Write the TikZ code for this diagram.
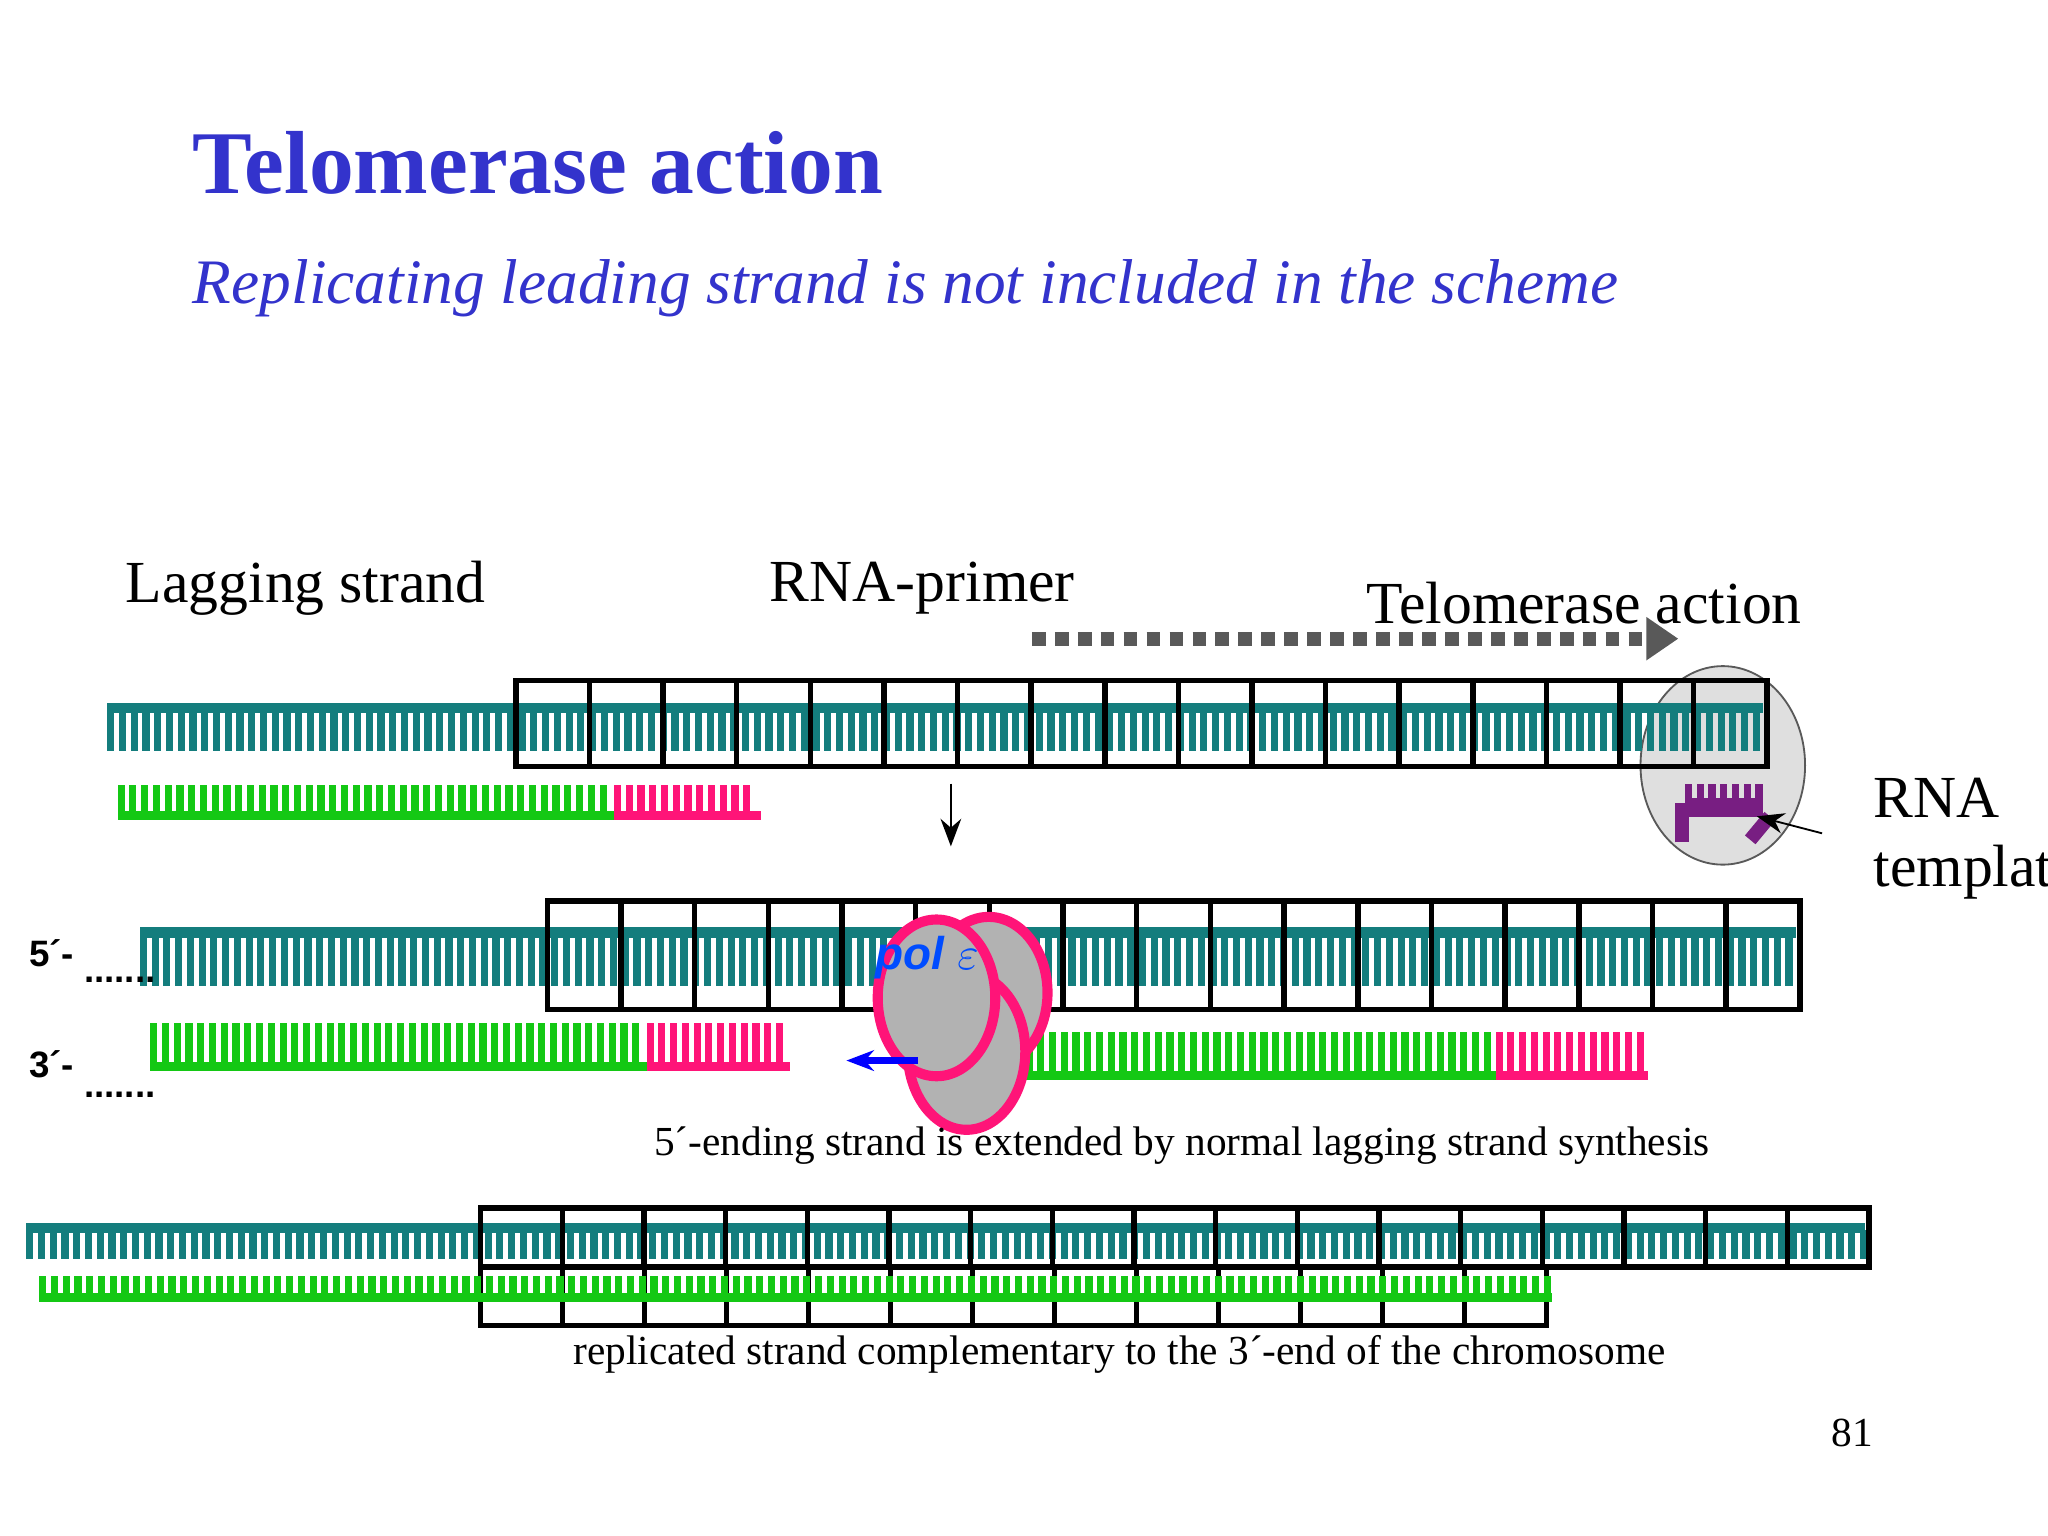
\documentclass[tikz,border=0pt]{standalone}
\usepackage{fontspec}
\setmainfont{Liberation Serif}
\newfontfamily\sansf{Liberation Sans}
\usetikzlibrary{arrows.meta,shapes.geometric}
\definecolor{teal1}{RGB}{20,125,125}
\definecolor{grn}{RGB}{20,200,20}
\definecolor{pnk}{RGB}{255,20,120}
\definecolor{ttl}{RGB}{51,51,204}
\definecolor{purp}{RGB}{120,30,130}
\newcommand\topstr[5]{%
  \fill[#5] (#1,#3) rectangle (#2,#3-0.08);
  \pgfmathsetmacro\xs{#1+0.09}
  \foreach \x in {#1,\xs,...,#2} {\fill[#5] (\x,#3-0.06) rectangle (\x+0.055,#3-#4);}
}
\newcommand\botstr[5]{%
  \fill[#5] (#1,#3) rectangle (#2,#3+0.07);
  \pgfmathsetmacro\xs{#1+0.09}
  \pgfmathsetmacro\xe{#2-0.06}
  \foreach \x in {#1,\xs,...,\xe} {\fill[#5] (\x,#3+0.05) rectangle (\x+0.055,#3+#4);}
}
\newcommand\boxrow[5]{%
  \pgfmathsetmacro\bw{(#2-#1)/#5}
  \pgfmathtruncatemacro\nn{#5-1}
  \foreach \i in {0,...,\nn} {\draw[line width=1.2pt] (#1+\i*\bw,#3) rectangle (#1+\i*\bw+\bw,#4);}
}
\tikzset{lab/.style={font=\fontsize{13pt}{15pt}\selectfont,anchor=west},
  captxt/.style={font=\fontsize{9pt}{11pt}\selectfont},
  side/.style={font=\sansf\bfseries\fontsize{8pt}{9pt}\selectfont,anchor=west},
  pol/.style={fill=gray!60,draw=pnk,line width=2.2pt}}
\begin{document}
\begin{tikzpicture}[x=1cm,y=1cm]
\useasboundingbox[fill=white] (0,0) rectangle (15.68,-11.76);
\node[anchor=base west,text=ttl,font=\bfseries\fontsize{19.5pt}{22pt}\selectfont,inner sep=0] (title) at (1.47,-1.48) {Telomerase action};
\node[anchor=base west,text=ttl,font=\itshape\fontsize{13.8pt}{16pt}\selectfont,inner sep=0] (sub) at (1.47,-2.32) {Replicating leading strand is not included in the scheme};
\node[lab] (lag) at (0.84,-4.5) {Lagging strand};
\node[lab] (prim) at (5.77,-4.5) {RNA-primer};
\node[lab] (tel) at (10.34,-4.62) {Telomerase action};
\coordinate (d1) at (7.9,-4.89); \coordinate (d2) at (12.85,-4.89);
\draw[gray!70!black,line width=3pt,dotted,-{Triangle[length=7pt,width=9pt]}] (d1) -- (d2);
\node[ellipse,draw=gray!70!black,fill=gray!25,minimum width=1.26cm,minimum height=1.52cm,inner sep=0] (tase) at (13.19,-5.86) {};
\topstr{0.82}{13.5}{-5.38}{0.37}{teal1}
\boxrow{3.95}{13.53}{-5.21}{-5.87}{17}
\botstr{0.9}{4.7}{-6.28}{0.27}{grn}
\botstr{4.7}{5.83}{-6.28}{0.27}{pnk}
\botstr{12.9}{13.5}{-6.18}{0.18}{purp}
\draw[purp,line width=3pt] (12.88,-6.45) -- (12.88,-6.2) -- (13.5,-6.2);
\draw[purp,line width=3pt] (13.4,-6.43) -- (13.55,-6.25);
\node[lab,align=left] (rna) at (14.22,-6.42) {RNA\\template};
\coordinate (rt) at (13.45,-6.25);
\draw[-{Stealth[length=6pt]}] (13.95,-6.38) -- (rt);
\coordinate (a1) at (7.28,-6.0); \coordinate (a2) at (7.28,-6.48);
\draw[-{Stealth[length=6pt]}] (a1) -- (a2);
\topstr{1.07}{13.75}{-7.1}{0.45}{teal1}
\boxrow{4.19}{13.78}{-6.9}{-7.73}{17}
\botstr{1.15}{4.95}{-8.2}{0.37}{grn}
\botstr{4.95}{6.05}{-8.2}{0.37}{pnk}
\botstr{7.85}{11.45}{-8.27}{0.37}{grn}
\botstr{11.45}{12.62}{-8.27}{0.37}{pnk}
\node[side] (f5) at (0.1,-7.3) {5´-};
\node[side] (d5) at (0.52,-7.5) {.......};
\node[side] (f3) at (0.1,-8.15) {3´-};
\node[side] (d3) at (0.52,-8.38) {.......};
\draw[pol] (7.57,-7.6) ellipse (0.45 and 0.58);
\draw[pol] (7.4,-8.05) ellipse (0.45 and 0.6);
\draw[pol] (7.17,-7.64) ellipse (0.45 and 0.6);
\node[text=blue!70!cyan,font=\sansf\bfseries\itshape\fontsize{10pt}{12pt}\selectfont] (pol) at (7.1,-7.33) {pol $\varepsilon$};
\coordinate (b1) at (7.03,-8.12); \coordinate (b2) at (6.48,-8.12);
\draw[blue,line width=1.5pt,-{Stealth[length=6pt]}] (b1) -- (b2);
\node[captxt] (c1) at (9.05,-8.77) {5´-ending strand is extended by normal lagging strand synthesis};
\topstr{0.2}{14.28}{-9.36}{0.28}{teal1}
\boxrow{3.68}{14.31}{-9.25}{-9.7}{17}
\boxrow{3.68}{11.84}{-9.7}{-10.15}{13}
\botstr{0.3}{11.88}{-9.97}{0.2}{grn}
\node[captxt] (c2) at (8.57,-10.37) {replicated strand complementary to the 3´-end of the chromosome};
\node[captxt] (pg) at (14.18,-10.97) {81};
\end{tikzpicture}
\end{document}
